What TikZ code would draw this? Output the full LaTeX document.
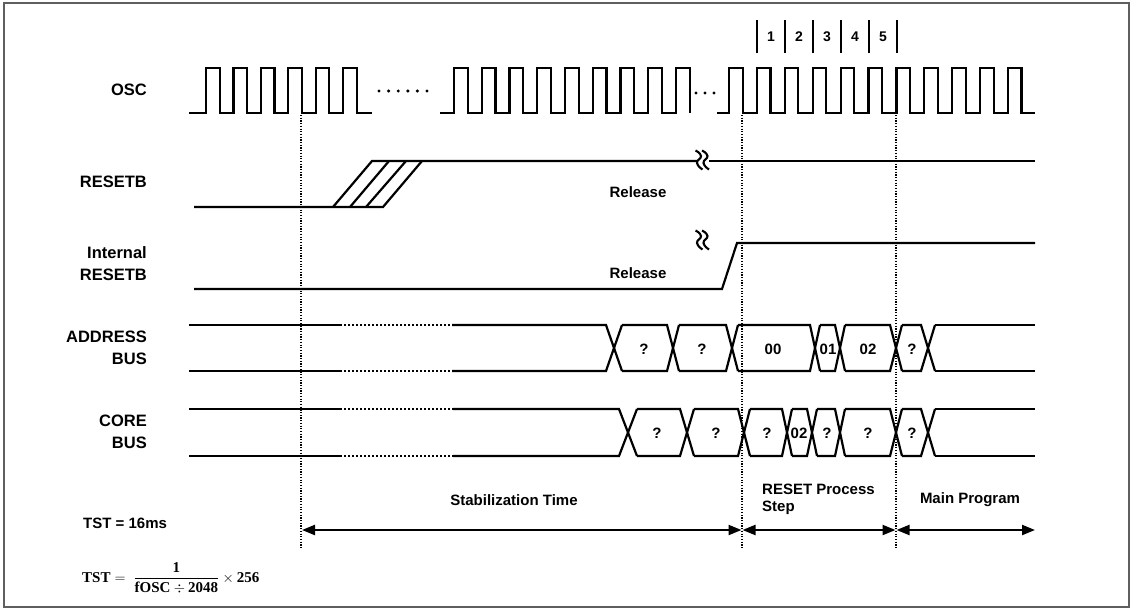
\documentclass[tikz,border=0pt]{standalone}
\usepackage{fontspec}
\setmainfont{Liberation Sans}
\newfontfamily\fserif{Liberation Serif}
\usetikzlibrary{arrows.meta}
\newcommand\brkmark[2]{%
  \foreach \dx in {0,6.5}{%
    \draw[line width=2.1pt] plot[smooth, tension=0.9] coordinates {({#1-3.5+\dx},{#2-9.5}) ({#1+2+\dx},{#2-4}) ({#1-2+\dx},{#2+3}) ({#1+3.5+\dx},{#2+9.5})};
  }}
\newcommand\sbf[1]{\mbox{\fserif\bfseries #1}}
\begin{document}
\begin{tikzpicture}[x=1pt,y=-1pt,
  sig/.style={line width=2.2pt, line join=miter},
  busdot/.style={line width=2.2pt, dash pattern=on 2pt off 2pt},
  dotv/.style={line width=1.3pt, dash pattern=on 1.2pt off 1.5pt},
  lbl/.style={font=\fontsize{16.5}{21.5}\selectfont\bfseries, align=right, anchor=east, inner sep=0pt},
  txt/.style={font=\fontsize{15}{17}\selectfont\bfseries, inner sep=0pt},
  num/.style={font=\fontsize{14}{16}\selectfont\bfseries, inner sep=0pt},
  span/.style={line width=2.2pt, {Triangle[length=13pt,width=10pt]}-{Triangle[length=13pt,width=10pt]}}
]
\useasboundingbox (0,0) rectangle (1132,610);
\draw[line width=1.5pt, draw={rgb,255:red,95;green,95;blue,95}] (4,3) rectangle (1129,607);

% ---- left labels
\node[lbl] (lOSC) at (147,90) {OSC};
\node[lbl] (lRES) at (147,182) {RESETB};
\node[lbl] (lIRES) at (147,263.5) {Internal\\RESETB};
\node[lbl] (lADDR) at (147,348) {ADDRESS\\BUS};
\node[lbl] (lCORE) at (147,432) {CORE\\BUS};

% ---- OSC
\draw[sig] (189,113) \foreach \k in {0,...,5} { -- ({206+27.4*\k},113) -- ({206+27.4*\k},68) -- ({219.7+27.4*\k},68) -- ({219.7+27.4*\k},113) } -- (372,113);
\foreach \k in {0,...,5} \fill ({379+9.6*\k},91) circle (1.7pt);
\draw[sig] (440,113) \foreach \k in {0,...,8} { -- ({454+27.75*\k},113) -- ({454+27.75*\k},68) -- ({467.7+27.75*\k},68) -- ({467.7+27.75*\k},113) };
\foreach \k in {0,...,2} \fill ({696+9*\k},93) circle (1.7pt);
\draw[sig] (717,113) -- (729,113) -- (729,68) -- (743,68) -- (743,113) \foreach \k in {1,...,10} { -- ({729+27.9*\k},113) -- ({729+27.9*\k},68) -- ({742.5+27.9*\k},68) -- ({742.5+27.9*\k},113) } -- (1035,113);

% ---- step markers
\foreach \x in {757,785,813,841,869,897} \draw[line width=2.2pt] (\x,20) -- (\x,53);
\node[num] (n1) at (771,37) {1};
\node[num] (n2) at (799,37) {2};
\node[num] (n3) at (827,37) {3};
\node[num] (n4) at (855,37) {4};
\node[num] (n5) at (883,37) {5};

% ---- dotted verticals
\foreach \x in {301,742,896} \draw[dotv] (\x,115) -- (\x,548);

% ---- RESETB
\draw[sig] (194,207) -- (383,207) -- (422,161);
\draw[sig] (333,207) -- (372,161) -- (697,161);
\draw[sig] (350,207) -- (389,161);
\draw[sig] (366,207) -- (406,161);
\draw[sig] (709,161) -- (1035,161);
\brkmark{699}{160}
\node[txt] (rel1) at (638,192) {Release};

% ---- Internal RESETB
\draw[sig] (194,289) -- (722,289) -- (737,243) -- (1035,243);
\brkmark{699}{240}
\node[txt] (rel2) at (638,273) {Release};

% ---- ADDRESS BUS
\draw[sig] (189,325) -- (342,325);
\draw[sig] (189,371) -- (342,371);
\draw[busdot] (344,325) -- (452,325);
\draw[busdot] (344,371) -- (452,371);
\foreach \c/\h [remember=\c as \pc (initially 452), remember=\h as \ph (initially 0)] in {614/8,673/6,732/6,815/5,840/5,896/6,928/7} {
  \draw[sig] ({\pc+\ph},325) -- ({\c-\h},325) -- ({\c+\h},371);
  \draw[sig] ({\pc+\ph},371) -- ({\c-\h},371) -- ({\c+\h},325);
}
\draw[sig] (935,325) -- (1035,325);
\draw[sig] (935,371) -- (1035,371);
\node[txt] (a1) at (644,349) {?};
\node[txt] (a2) at (702,349) {?};
\node[txt] (a3) at (773,349) {00};
\node[txt] (a4) at (828,349) {01};
\node[txt] (a5) at (868,349) {02};
\node[txt] (a6) at (912,349) {?};

% ---- CORE BUS
\draw[sig] (189,409) -- (342,409);
\draw[sig] (189,456) -- (342,456);
\draw[busdot] (344,409) -- (453,409);
\draw[busdot] (344,456) -- (453,456);
\foreach \c/\h [remember=\c as \pc (initially 453), remember=\h as \ph (initially 0)] in {628/9,687/7,744/6,787/5,812/5,840/5,896/6,928/7} {
  \draw[sig] ({\pc+\ph},409) -- ({\c-\h},409) -- ({\c+\h},456);
  \draw[sig] ({\pc+\ph},456) -- ({\c-\h},456) -- ({\c+\h},409);
}
\draw[sig] (935,409) -- (1035,409);
\draw[sig] (935,456) -- (1035,456);
\node[txt] (c1) at (657,433) {?};
\node[txt] (c2) at (716,433) {?};
\node[txt] (c3) at (767,433) {?};
\node[txt] (c4) at (799,433) {02};
\node[txt] (c5) at (827,433) {?};
\node[txt] (c6) at (868,433) {?};
\node[txt] (c7) at (912,433) {?};

% ---- bottom spans
\coordinate (s0) at (302,530);
\coordinate (s1) at (742,530);
\coordinate (s2) at (896,530);
\coordinate (s3) at (1035,530);
\draw[span] (s0) -- ([xshift=-0.5pt]s1);
\draw[span] ([xshift=0.5pt]s1) -- ([xshift=-0.5pt]s2);
\draw[span] ([xshift=0.5pt]s2) -- (s3);
\node[txt] (tstab) at (514,500) {Stabilization Time};
\node[txt, align=left, anchor=west] (treset) at (762,499.5) {RESET Process\\Step};
\node[txt] (tmain) at (970,500) {Main Program};
\node[txt, anchor=west] (tst) at (83,523) {TST = 16ms};
\node[anchor=west, inner sep=0pt, font=\fontsize{15}{17}\selectfont] (formula) at (82,578) {$\displaystyle \sbf{TST}=\;\frac{\sbf{1}}{\sbf{fOSC}\div\sbf{2048}}\times\sbf{256}$};
\end{tikzpicture}
\end{document}
